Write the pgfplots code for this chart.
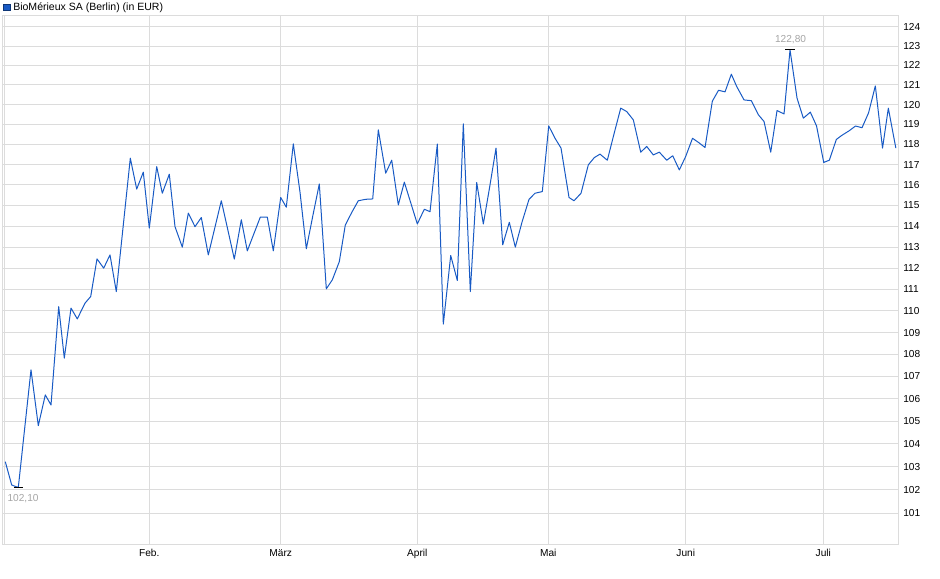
\documentclass[border=0pt]{standalone}
\usepackage{pgfplots}
\pgfplotsset{compat=1.18}
\usepackage{fontspec}
\setmainfont{Liberation Sans}

\definecolor{kurs}{RGB}{24,90,196}
\definecolor{gitter}{RGB}{220,220,220}
\definecolor{marke}{RGB}{165,165,165}

\begin{document}
\begin{tikzpicture}
\begin{axis}[
  at={(0,0)}, anchor=south west,
  scale only axis,
  width=671.8pt, height=396.75pt,
  xmin=3, xmax=898.7,
  ymode=log, ymin=99.66, ymax=124.58,
  axis line style={gitter, line width=0.75pt},
  xtick={5,149.3,280.7,417.3,548.3,685.7,823.3},
  xticklabels={,Feb.,März,April,Mai,Juni,Juli},
  ytick={101,102,...,124},
  yticklabels={101,102,103,104,105,106,107,108,109,110,111,112,113,114,115,116,117,118,119,120,121,122,123,124},
  yticklabel pos=right,
  major tick length=0pt,
  grid=major,
  major grid style={gitter, line width=0.75pt},
  tick label style={font=\fontsize{7.6}{9}\selectfont, black},
  yticklabel style={anchor=west, inner sep=0pt, xshift=3.2pt},
  xticklabel style={anchor=north, inner sep=0pt, yshift=-3.3pt},
]
% x: position on the time axis (Jan..Jul), y: price in EUR
\addplot[kurs, line width=0.75pt, line join=round] coordinates {
  (5.3,103.22) (11.7,102.21) (18.3,102.10) (31,107.30) (38.3,104.80) (45.3,106.17)
  (51,105.72) (58.7,110.20) (64.3,107.83) (71,110.13) (77.3,109.63) (85,110.36)
  (90.7,110.67) (97,112.44) (103.7,112.00) (110,112.63) (116.3,110.90) (123.3,114.06)
  (130.3,117.32) (136.7,115.80) (143.3,116.63) (149.3,113.91) (156.7,116.90) (162.3,115.60)
  (169.3,116.53) (175,113.98) (182.3,113.00) (188.3,114.63) (195,113.98) (201.3,114.42)
  (208.3,112.63) (214.8,113.92) (221.3,115.23) (227.8,113.83) (234.3,112.43) (241.3,114.31)
  (247.3,112.82) (253.8,113.63) (260.3,114.44) (267.3,114.44) (273.3,112.82) (280.7,115.39)
  (286.3,114.92) (293.3,118.03) (300,115.65) (306.3,112.92) (313,114.55) (319.3,116.05)
  (326.3,111.03) (332.3,111.45) (339.3,112.31) (345.3,114.06) (352,114.69) (358.3,115.23)
  (365.5,115.30) (372.7,115.32) (378.3,118.73) (385.7,116.58) (391.7,117.22) (398.3,115.03)
  (404.3,116.14) (410.8,115.12) (417.3,114.11) (424.3,114.82) (430,114.70) (437.3,118.02)
  (443.3,109.39) (450.7,112.60) (457.3,111.42) (463.3,119.03) (470.3,110.90) (476.7,116.12)
  (483.3,114.11) (489.5,115.86) (496,117.82) (502.7,113.11) (509.3,114.19) (515.3,113.00)
  (522,114.20) (529,115.30) (535,115.60) (542.3,115.68) (548.7,118.93) (555,118.31)
  (561,117.82) (569,115.39) (574,115.23) (581,115.60) (588.3,116.99) (594.3,117.35)
  (600,117.52) (607.3,117.22) (614,118.53) (620.7,119.82) (626.7,119.65) (633.3,119.23)
  (640.7,117.62) (646.7,117.90) (653.3,117.48) (659.3,117.62) (666.7,117.22) (672.7,117.44)
  (679.3,116.74) (685.7,117.41) (692.5,118.31) (699,118.08) (705,117.85) (712.3,120.17)
  (718.5,120.73) (725,120.65) (731.3,121.55) (736.7,120.92) (744,120.24) (751.3,120.20)
  (758.5,119.48) (764,119.15) (770.7,117.62) (777,119.70) (784,119.53) (790,122.80)
  (797,120.33) (803.3,119.32) (810.3,119.62) (816.5,118.93) (823.7,117.11) (829.3,117.22)
  (836.3,118.25) (842,118.46) (849,118.68) (855.5,118.92) (862,118.84) (868.5,119.58)
  (875.3,120.95) (882.5,117.82) (888.3,119.82) (895.8,117.82)
};
% low and high of the period
\addplot[black, only marks, mark=-, mark size=3.5pt, mark options={line width=0.8pt}]
  coordinates {(18.3,102.10) (790,122.80)};
\node[anchor=west, inner sep=0pt, text=marke, font=\fontsize{7.6}{9}\selectfont]
  at (axis cs:7.3,101.61) {102,10};
\node[fill=white, inner sep=1pt, text=marke, font=\fontsize{7.6}{9}\selectfont]
  at (axis cs:790.5,123.32) {122,80};
\end{axis}
\fill[kurs, draw=kurs!60!black, line width=0.4pt] (0.3pt,400.9pt) rectangle (5.2pt,405.8pt);
\node[anchor=base west, inner sep=0pt, font=\fontsize{7.9}{9}\selectfont]
  at (7.5pt,400.6pt) {BioMérieux SA (Berlin) (in EUR)};
\pgfresetboundingbox
\path[use as bounding box] (-2.25pt,-25.5pt) rectangle (702.75pt,408.75pt);
\end{tikzpicture}
\end{document}
